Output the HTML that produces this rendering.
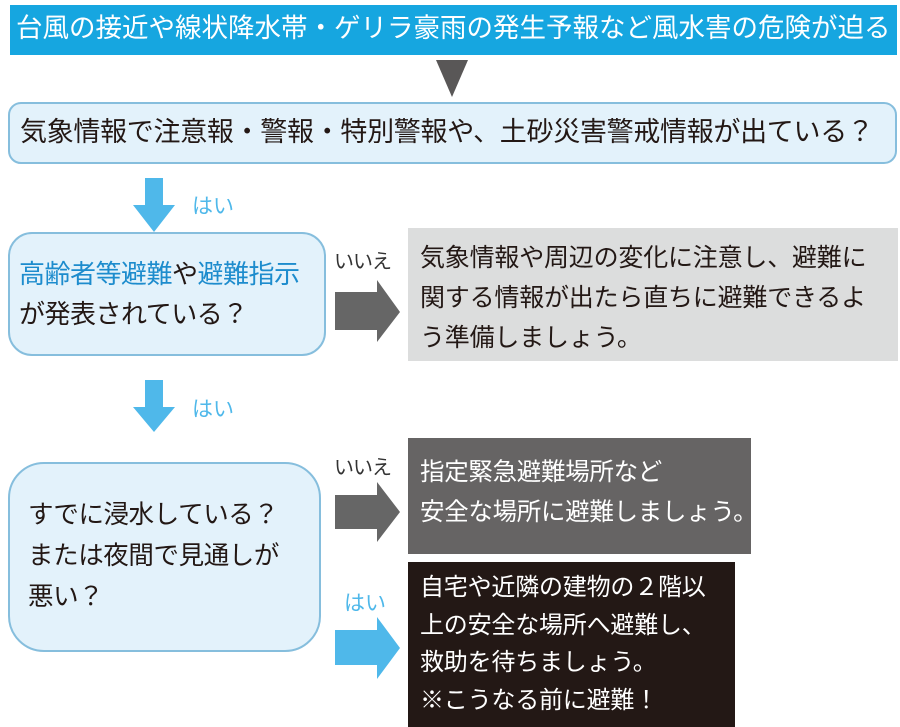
<!DOCTYPE html>
<html><head><meta charset="utf-8"><style>
body{margin:0;width:900px;height:727px;background:#fff;position:relative;overflow:hidden;font-family:"Liberation Sans","Noto Sans CJK JP",sans-serif;}
div{position:absolute;box-sizing:border-box;}
.t{white-space:nowrap;}
.q{background:#e3f2fb;border:2px solid #86bedd;}
</style></head><body>
<div style="left:10px;top:5px;width:887px;height:50px;background:#16a6e0;"></div>
<div class="t" style="left:16px;top:11px;font-size:26.5px;line-height:34px;color:#fff;letter-spacing:0px;">台風の接近や線状降水帯・ゲリラ豪雨の発生予報など風水害の危険が迫る</div>
<svg style="position:absolute;left:0;top:0" width="900" height="727">
<polygon points="436,60 468,60 452,97" fill="#595757"/>
<polygon points="145,178 163,178 163,205 175,205 154,232 133,205 145,205" fill="#4fb8ea"/>
<polygon points="145,380 163,380 163,407 175,407 154,432 133,407 145,407" fill="#4fb8ea"/>
<polygon points="335,292 377,292 377,280 400,312 377,342 377,330 335,330" fill="#666"/>
<polygon points="335,495 377,495 377,482 400,512 377,542 377,529 335,529" fill="#666"/>
<polygon points="335,630 377,630 377,617 400,648 377,679 377,665 335,665" fill="#4fb8ea"/>
</svg>
<div class="q" style="left:8px;top:102px;width:889px;height:62px;border-radius:13px;"></div>
<div class="t" style="left:20px;top:115px;font-size:27px;line-height:34px;color:#231815;letter-spacing:-0.3px;">気象情報で注意報・警報・特別警報や、土砂災害警戒情報が出ている？</div>
<div class="t" style="left:192px;top:190px;font-size:21px;color:#4fb8ea;">はい</div>
<div class="q" style="left:8px;top:232px;width:318px;height:124px;border-radius:24px;"></div>
<div class="t" style="left:19px;top:254px;font-size:26px;color:#231815;line-height:40px;letter-spacing:-0.5px;"><span style="color:#1d8ccd">高齢者等避難</span>や<span style="color:#1d8ccd">避難指示</span><br>が発表されている？</div>
<div class="t" style="left:334px;top:245px;font-size:20px;color:#333;letter-spacing:-1px;">いいえ</div>
<div style="left:408px;top:228px;width:490px;height:133px;background:#dcdddd;"></div>
<div class="t" style="left:420px;top:238px;font-size:25px;color:#231815;line-height:40px;letter-spacing:-0.2px;">気象情報や周辺の変化に注意し、避難に<br>関する情報が出たら直ちに避難できるよ<br>う準備しましょう。</div>
<div class="t" style="left:192px;top:393px;font-size:21px;color:#4fb8ea;">はい</div>
<div class="q" style="left:8px;top:462px;width:313px;height:190px;border-radius:36px;"></div>
<div class="t" style="left:28px;top:495px;font-size:25.5px;color:#231815;line-height:41px;letter-spacing:-0.4px;">すでに浸水している？<br>または夜間で見通しが<br>悪い？</div>
<div class="t" style="left:334px;top:451px;font-size:20px;color:#333;letter-spacing:-1px;">いいえ</div>
<div style="left:408px;top:438px;width:343px;height:116px;background:#666464;"></div>
<div class="t" style="left:420px;top:453px;font-size:24.5px;color:#fff;line-height:40px;letter-spacing:-0.3px;">指定緊急避難場所など<br>安全な場所に避難しましょう。</div>
<div class="t" style="left:344px;top:587px;font-size:21px;color:#4fb8ea;">はい</div>
<div style="left:408px;top:562px;width:327px;height:165px;background:#231815;"></div>
<div class="t" style="left:420px;top:569px;font-size:24px;color:#fff;line-height:37.5px;letter-spacing:-0.2px;">自宅や近隣の建物の２階以<br>上の安全な場所へ避難し、<br>救助を待ちましょう。<br>※こうなる前に避難！</div>
</body></html>
